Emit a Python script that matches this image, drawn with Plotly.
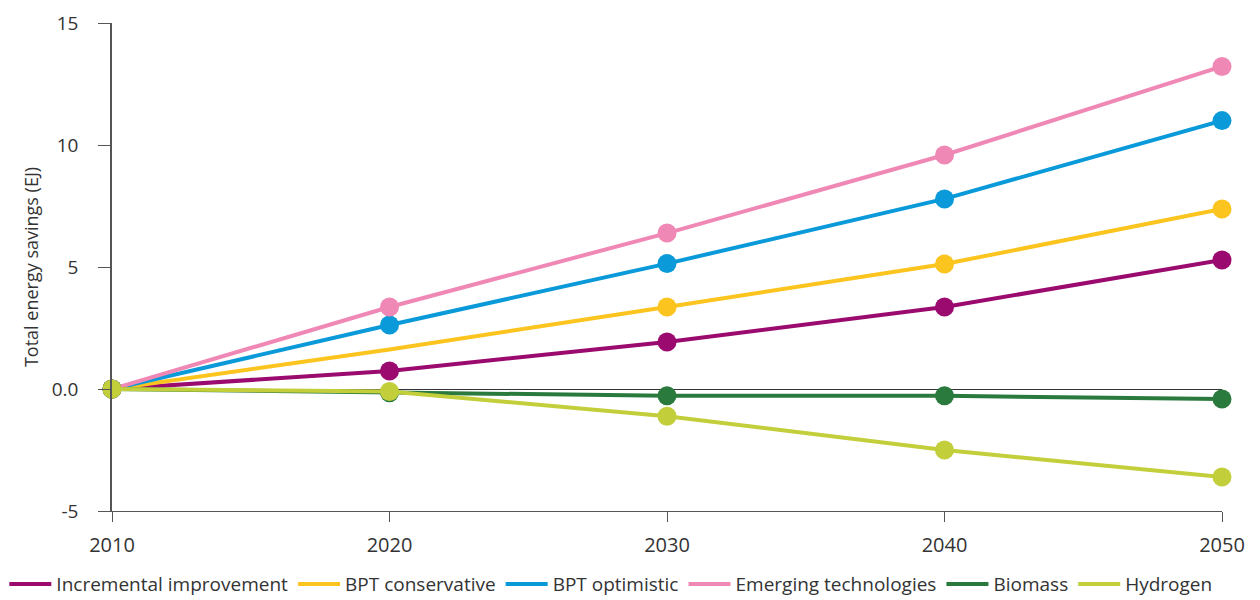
import plotly.graph_objects as go

years = [2010, 2020, 2030, 2040, 2050]

incremental = [0, 0.74, 1.93, 3.36, 5.29]
bpt_conservative = [0, 1.62, 3.36, 5.12, 7.38]
bpt_optimistic = [0, 2.62, 5.14, 7.79, 11.0]
emerging = [0, 3.36, 6.39, 9.59, 13.22]
biomass = [0, -0.15, -0.28, -0.28, -0.41]
hydrogen = [0, -0.1, -1.12, -2.5, -3.61]

ytick_vals = [-5, 0, 5, 10, 15]
ytick_text = ['-5', '0.0', '5', '10', '15']

series = [
    ("Incremental improvement", incremental, '#9a0a6f', True),
    ("BPT conservative", bpt_conservative, '#fbc41e', False),
    ("BPT optimistic", bpt_optimistic, '#0a9ad9', True),
    ("Emerging technologies", emerging, '#f088b5', True),
    ("Biomass", biomass, '#2a7a3e', True),
    ("Hydrogen", hydrogen, '#c2cf3a', True),
]

fig = go.Figure()

for name, vals, color, marker_2020 in series:
    # the conservative line has no marker at 2020 in the source
    sizes = [19, 19 if marker_2020 else 0, 19, 19, 19]
    fig.add_trace(go.Scatter(
        x=years, y=vals, name=name, mode='lines+markers',
        line=dict(color=color, width=4),
        marker=dict(color=color, size=sizes, opacity=1, line=dict(width=0)),
        cliponaxis=False,
        showlegend=False,
    ))

# legend entries show only a short line
for name, vals, color, _ in series:
    fig.add_trace(go.Scatter(
        x=[None], y=[None], name=name, mode='lines',
        line=dict(color=color, width=4),
    ))

# page has an 8px body margin, so the figure is sized a bit smaller
fig.update_layout(
    width=1252, height=592,
    margin=dict(l=104, r=38, t=15, b=89, autoexpand=False),
    plot_bgcolor='white',
    paper_bgcolor='white',
    font=dict(family='Open Sans, Noto Sans, sans-serif', color='#333333', size=19),
    showlegend=True,
    legend=dict(
        orientation='h', x=-0.097, xanchor='left', y=-0.15, yanchor='middle',
        font=dict(size=19, color='#333333'),
        itemwidth=42, tracegroupgap=0,
    ),
    xaxis=dict(
        range=[2010, 2050],
        tickvals=years,
        showgrid=False,
        zeroline=False,
        showline=True, linecolor='#555555', linewidth=1,
        ticks='outside', ticklen=10, tickcolor='#555555',
        tickfont=dict(size=20),
        ticklabelstandoff=6,
        ticklabeloverflow='allow',
    ),
    yaxis=dict(
        range=[-5, 15],
        tickvals=ytick_vals,
        ticktext=ytick_text,
        showgrid=False,
        zeroline=True, zerolinecolor='#333333', zerolinewidth=1,
        showline=True, linecolor='#555555', linewidth=1.5,
        ticks='outside', ticklen=12, tickcolor='#555555',
        tickfont=dict(size=19),
        ticklabelstandoff=16,
        ticklabeloverflow='allow',
        title=dict(text='Total energy savings (EJ)', font=dict(size=18), standoff=8),
    ),
)

fig.write_html("out.html")
